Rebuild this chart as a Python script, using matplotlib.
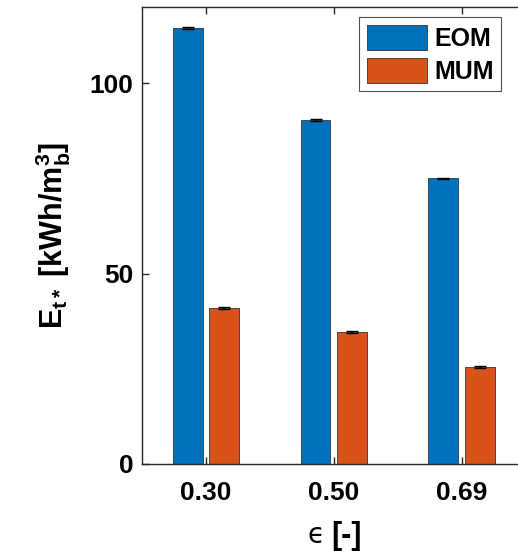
import numpy as np
import matplotlib.pyplot as plt

plt.rcParams['font.family'] = ['Liberation Sans', 'DejaVu Sans']
plt.rcParams['font.weight'] = 'bold'
plt.rcParams['axes.labelweight'] = 'bold'
plt.rcParams['mathtext.fontset'] = 'custom'
plt.rcParams['mathtext.rm'] = 'Liberation Sans:bold'
plt.rcParams['mathtext.it'] = 'Liberation Sans:bold'
plt.rcParams['mathtext.bf'] = 'Liberation Sans:bold'

porosity = ['0.30', '0.50', '0.69']
eom = [114.5, 90.3, 75.0]
mum = [41.0, 34.7, 25.5]
eom_err = [0.3, 0.2, 0.2]
mum_err = [0.2, 0.2, 0.2]

blue = '#0072BD'
orange = '#D95319'

fig = plt.figure(figsize=(5.18, 5.51), dpi=100)
ax = fig.add_axes([0.274, 0.158, 0.726, 0.829])

x = np.arange(1, len(porosity) + 1)
w = 0.234
ax.bar(x - 0.143, eom, w, color=blue, edgecolor='#333333', linewidth=0.6, label='EOM')
ax.bar(x + 0.143, mum, w, color=orange, edgecolor='#333333', linewidth=0.6, label='MUM')
ax.errorbar(x - 0.143, eom, yerr=eom_err, fmt='none', ecolor='black', capsize=4, elinewidth=1)
ax.errorbar(x + 0.143, mum, yerr=mum_err, fmt='none', ecolor='black', capsize=4, elinewidth=1)

ax.set_xlim(0.5, 3.44)
ax.set_ylim(0, 120)
ax.set_xticks(x)
ax.set_xticklabels(porosity)
ax.set_yticks([0, 50, 100])
ax.tick_params(axis='both', direction='in', labelsize=19, length=5, width=1, color='#262626')
ax.tick_params(axis='x', pad=12, top=True)
ax.tick_params(axis='y', pad=6)
for s in ['left', 'top', 'bottom']:
    ax.spines[s].set_color('#262626')
    ax.spines[s].set_linewidth(1)
ax.spines['right'].set_visible(False)

ax.set_ylabel(r'$E_{t*}$ [kWh/m$_b^3$]', fontsize=22, labelpad=12)

# x label: thin epsilon + bold "[-]"
ax.set_xlabel('[-]', fontsize=22)
ax.xaxis.set_label_coords(0.543, -0.125)
ax.text(0.463, -0.172, '\u03f5', transform=ax.transAxes, fontsize=20,
        family='DejaVu Sans', fontweight='normal', ha='center', va='baseline')

leg = ax.legend(loc='upper right', bbox_to_anchor=(0.955, 0.978), fontsize=18,
                handlelength=2.4, handleheight=1.15, borderaxespad=0,
                fancybox=False, edgecolor='#262626',
                borderpad=0.3, labelspacing=0.3, handletextpad=0.3)
leg.get_frame().set_linewidth(0.8)

fig.savefig('out.png', dpi=100)
